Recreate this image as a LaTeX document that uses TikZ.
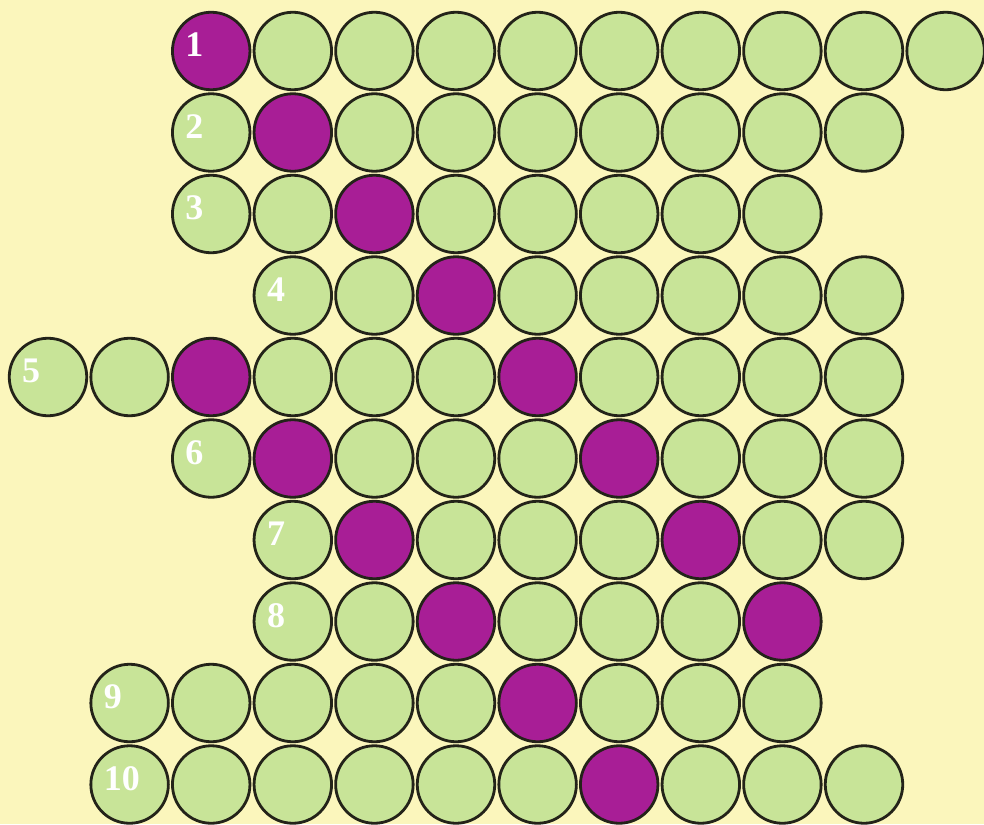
\documentclass[tikz,border=0pt]{standalone}
\usepackage{fontspec}
\setmainfont{Liberation Serif}
\definecolor{bg}{RGB}{251,246,188}
\definecolor{grn}{RGB}{200,228,152}
\definecolor{mag}{RGB}{168,30,150}
\definecolor{edge}{RGB}{35,35,25}
\tikzset{
  dot/.style={circle,inner sep=0pt,minimum size=77.5pt,line width=2.8pt,draw=edge},
  gdot/.style={dot,fill=grn},
  mdot/.style={dot,fill=mag},
  lab/.style={anchor=west,inner sep=0pt,text=white,font=\fontsize{36}{36}\selectfont\bfseries}
}
\begin{document}
\begin{tikzpicture}[x=1pt,y=-1pt]
\fill[bg] (0,0) rectangle (984,824);
\useasboundingbox (0,0) rectangle (984,824);
\foreach \r/\a/\b/\m/\n in {1/2/11/2/0,2/2/10/3/0,3/2/9/4/0,4/3/10/5/0,5/0/10/2/6,6/2/10/3/7,7/3/10/4/8,8/3/9/5/9,9/1/9/6/0,10/1/10/7/0}{
  \foreach \c in {\a,...,\b}{
    \pgfmathtruncatemacro\ism{(\c==\m)||(\c==\n)}
    \ifnum\ism=1 \def\st{mdot}\else\def\st{gdot}\fi
    \node[\st] (c-\r-\c) at ({48+81.6*\c},{51+81.5*(\r-1)}) {};
  }
  \node[lab] (lab-\r) at ([xshift=-26pt,yshift=6pt]c-\r-\a.center) {\r};
}
\end{tikzpicture}
\end{document}
